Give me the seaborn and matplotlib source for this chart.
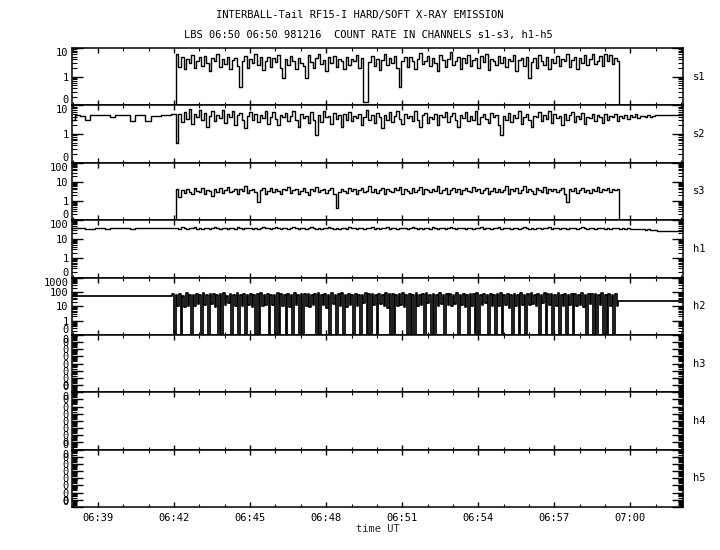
import numpy as np
import matplotlib
matplotlib.use("Agg")
import matplotlib.pyplot as plt
import matplotlib.ticker as mticker
import seaborn as sns

# time in minutes after 06:00 UT
X_MIN, X_MAX = 37.97, 62.08
T_PRE = 37.87          # coarse sampling (12 s) before the burst
DT_PRE = 12 / 60
T_ON = 42.07           # fine sampling (6 s)
DT = 6 / 60
T_H2 = 41.93           # h2 sampled in 8 s bins (max / min pairs)
DT_H2 = 8 / 60

CHANNELS = ["s1", "s2", "s3", "h1", "h2", "h3", "h4", "h5"]
X_MAJOR = [39, 42, 45, 48, 51, 54, 57, 60]

# count rates
s1_counts = [
    6.0, 2.2, 5.0, 1.8, 4.2, 3.0, 5.5, 2.0, 3.6, 4.8,
    2.4, 5.2, 3.0, 1.6, 4.4, 3.4, 6.0, 2.2, 4.0, 2.8,
    5.0, 1.8, 3.8, 4.6, 2.4, 0.45, 3.4, 5.4, 2.0, 4.2,
    3.0, 6.2, 2.6, 4.8, 1.7, 3.6, 5.0, 2.2, 4.4, 3.2,
    5.8, 2.0, 0.9, 4.0, 2.6, 5.2, 3.4, 1.8, 4.6, 3.0,
    2.4, 0.9, 5.6, 3.2, 2.0, 4.4, 6.4, 2.8, 3.8, 1.6,
    4.8, 3.0, 5.4, 2.2, 4.0, 3.4, 1.9, 5.0, 2.6, 4.2,
    3.6, 5.8, 2.0, 4.6, 0.13, 0.13, 3.2, 5.2, 2.4, 4.0,
    1.7, 3.8, 6.0, 2.6, 4.4, 3.0, 5.4, 2.0, 0.45, 3.6,
    4.8, 2.2, 5.0, 3.4, 1.8, 4.2, 6.6, 2.8, 3.6, 5.2,
    2.4, 4.6, 3.0, 1.6, 5.6, 3.8, 2.2, 4.0, 7.2, 2.6,
    3.4, 5.0, 1.8, 4.4, 3.0, 5.8, 2.4, 3.8, 4.6, 2.0,
    5.2, 3.2, 6.0, 1.7, 4.2, 3.6, 2.6, 5.4, 3.0, 4.8,
    2.2, 4.0, 3.4, 5.6, 1.6, 3.8, 4.6, 2.4, 5.0, 0.9,
    3.2, 4.4, 2.0, 5.8, 3.6, 2.6, 4.8, 1.8, 4.0, 3.0,
    5.4, 2.4, 4.2, 3.4, 6.2, 2.2, 3.8, 5.0, 1.9, 4.4,
    3.0, 5.6, 2.6, 4.0, 6.4, 2.8, 3.6, 5.2, 2.4, 6.0,
    3.4, 5.8, 2.8, 4.4, 3.6,
]

s2_pre = [3.2, 4.8, 4.2, 3.2, 4.8, 4.8, 4.6, 4.6, 4.0, 4.8, 4.6,
          4.6, 2.8, 4.8, 4.8, 2.8, 4.4, 4.4, 4.8, 4.8, 5.0]
s2_fine = [
    0.5, 5.0, 2.6, 6.0, 3.4, 7.5, 2.2, 5.2, 4.0, 6.8,
    3.0, 5.6, 1.8, 4.4, 6.4, 2.8, 4.8, 3.6, 7.0, 2.4,
    5.0, 3.8, 6.2, 2.0, 4.6, 5.4, 3.2, 1.6, 4.2, 6.0,
    3.0, 5.2, 2.6, 4.8, 3.6, 6.6, 2.2, 4.0, 5.8, 3.4,
    2.0, 4.6, 3.8, 5.4, 2.8, 4.2, 6.2, 3.0, 1.8, 5.0,
    3.6, 4.4, 2.4, 5.8, 3.2, 0.95, 4.8, 2.6, 6.4, 3.8,
    4.2, 2.2, 5.6, 3.4, 4.6, 1.7, 5.2, 3.0, 6.0, 2.8,
    4.4, 3.6, 5.0, 2.0, 4.0, 6.8, 3.2, 4.8, 2.4, 5.4,
    3.8, 1.6, 4.6, 3.0, 5.8, 2.6, 4.2, 6.2, 3.4, 2.2,
    5.0, 3.6, 4.4, 2.8, 6.4, 3.2, 1.8, 4.8, 5.6, 2.4,
    4.0, 3.4, 5.2, 2.0, 4.6, 3.8, 6.0, 2.6, 4.2, 5.4,
    3.0, 1.7, 4.8, 3.6, 5.8, 2.8, 4.4, 3.2, 6.6, 2.2,
    4.0, 5.0, 3.4, 2.4, 5.6, 3.8, 4.6, 2.0, 0.95, 4.2,
    3.0, 5.4, 2.6, 4.8, 3.6, 6.2, 2.2, 4.0, 5.0, 3.2,
    1.8, 4.4, 3.8, 5.8, 2.8, 4.6, 3.4, 6.4, 2.4, 5.2,
    3.6, 4.2, 2.0, 5.0, 3.0, 4.8, 6.0, 2.6, 4.4, 3.4,
    5.6, 2.2, 4.0, 3.6, 5.2, 2.8, 4.6, 3.8, 2.4, 5.0,
    3.2, 4.4, 3.8, 5.0, 2.8, 4.2, 3.6, 4.8, 3.4, 4.6,
    4.0, 5.0, 3.6, 4.4, 4.2, 3.8, 4.8, 4.0, 4.4, 4.5,
]
s2_tail = 4.5

s3_counts = [
    4.0, 1.6, 3.6, 2.6, 4.4, 3.0, 2.2, 4.8, 3.4, 2.8,
    5.0, 2.4, 3.8, 3.2, 1.8, 4.2, 3.0, 4.6, 2.6, 3.6,
    5.2, 2.8, 3.4, 4.0, 2.2, 4.4, 3.2, 6.0, 2.6, 3.8,
    4.2, 3.0, 0.9, 3.6, 4.6, 2.4, 3.4, 5.0, 2.8, 4.0,
    3.2, 2.2, 4.4, 3.6, 5.4, 2.6, 3.8, 4.2, 2.4, 3.4,
    4.8, 3.0, 2.0, 4.0, 3.4, 5.2, 2.8, 3.6, 4.4, 2.6,
    3.8, 4.6, 2.2, 0.43, 3.0, 4.2, 3.4, 2.6, 5.0, 3.2,
    4.0, 2.4, 3.6, 4.8, 2.8, 3.4, 6.2, 3.0, 4.2, 2.6,
    3.8, 5.0, 2.4, 4.4, 3.2, 2.8, 4.6, 3.6, 5.6, 2.2,
    4.0, 3.4, 2.6, 4.8, 3.0, 3.8, 5.2, 2.4, 4.2, 3.6,
    2.8, 4.4, 3.2, 6.0, 2.6, 3.6, 4.6, 2.2, 3.8, 5.0,
    3.0, 4.2, 2.4, 3.6, 4.8, 3.2, 2.8, 5.4, 3.4, 4.0,
    2.6, 3.8, 4.6, 2.2, 3.4, 5.0, 3.0, 4.4, 2.8, 3.6,
    5.8, 2.4, 4.0, 3.2, 4.6, 2.6, 3.8, 6.4, 2.8, 4.2,
    3.4, 2.2, 4.8, 3.6, 3.0, 5.2, 2.6, 4.0, 3.4, 4.4,
    2.8, 3.8, 5.0, 2.4, 0.9, 4.2, 3.2, 4.6, 2.6, 3.6,
    4.8, 3.0, 3.8, 2.6, 4.4, 3.4, 5.2, 2.8, 4.0, 3.6,
    4.6, 3.0, 4.2, 3.8, 4.4,
]

h1_pre = [38, 38, 37, 36, 36, 37, 38, 36, 37, 37, 38,
          37, 36, 37, 38, 37, 38, 38, 37, 38, 39]
h1_fine = [
    40, 36, 42, 38, 35, 41, 37, 44, 36, 39,
    34, 38, 41, 36, 39, 43, 37, 35, 40, 38,
    33, 37, 40, 36, 42, 38, 35, 39, 37, 41,
    36, 39, 34, 38, 43, 37, 40, 35, 38, 42,
    37, 35, 39, 41, 36, 38, 44, 37, 34, 39,
    40, 36, 38, 42, 37, 35, 39, 36, 41, 38,
    43, 37, 34, 39, 36, 40, 38, 35, 42, 37,
    39, 36, 41, 38, 35, 40, 37, 45, 36, 38,
    34, 39, 37, 42, 36, 38, 40, 35, 39, 37,
    41, 36, 38, 43, 37, 34, 39, 36, 40, 38,
    36, 42, 37, 35, 39, 41, 36, 38, 44, 37,
    35, 40, 37, 39, 33, 38, 41, 36, 39, 37,
    42, 36, 38, 40, 35, 39, 37, 43, 36, 38,
    40, 37, 34, 39, 41, 36, 38, 42, 37, 35,
    39, 36, 41, 38, 35, 40, 37, 44, 36, 39,
    37, 34, 38, 41, 36, 39, 37, 40, 35, 38,
    42, 37, 36, 39, 38, 35, 40, 37, 39, 36,
    38, 36, 39, 37, 38, 35, 37, 36, 38, 35,
    36, 34, 35, 33, 34, 32, 33, 31, 30, 31,
]
h1_tail = 28

h2_pre = 55
h2_hi = [
    70, 60, 75, 55, 80, 65, 58, 72, 62, 85,
    57, 68, 74, 60, 66, 78, 55, 70, 63, 82,
    59, 71, 65, 76, 58, 69, 88, 61, 73, 64,
    56, 79, 67, 60, 74, 62, 83, 57, 70, 66,
    75, 59, 68, 86, 61, 72, 64, 77, 58, 69,
    81, 63, 71, 56, 76, 65, 60, 90, 67, 73,
    58, 70, 62, 79, 66, 74, 57, 68, 84, 61,
    72, 64, 77, 59, 69, 87, 62, 71, 65, 78,
    56, 73, 66, 60, 80, 63, 70, 58, 75, 67,
    85, 61, 72, 64, 76, 59, 68, 82, 62, 74,
    57, 70, 65, 79, 60, 71, 88, 63, 73, 58,
    77, 66, 69, 61, 83, 64, 72, 59, 75, 68,
    62, 80, 57, 70, 66, 74, 60, 78, 63, 71,
    65, 69,
]
h2_lo = [
    12, 10, 14, 9, 11, 13, 10, 15, 8, 12,
    11, 14, 9, 13, 10, 12, 16, 9, 11, 13,
    10, 15, 12, 9, 14, 11, 10, 13, 8, 12,
    14, 10, 11, 15, 9, 12, 13, 10, 16, 11,
    9, 12, 14, 10, 13, 8, 11, 15, 12, 10,
    13, 9, 12, 14, 11, 10, 16, 9, 13, 12,
    10, 14, 11, 8, 12, 15, 10, 13, 9, 11,
    14, 12, 10, 13, 9, 16, 11, 12, 10, 14,
    8, 13, 11, 15, 10, 12, 9, 14, 11, 13,
    10, 12, 16, 9, 11, 14, 10, 13, 12, 8,
    15, 11, 10, 13, 9, 12, 14, 10, 11, 16,
    9, 13, 12, 10, 14, 11, 8, 12, 15, 10,
    13, 9, 11, 14, 12, 10, 13, 9, 12, 11,
    14, 10,
]
# 8 s bins in which the h2 rate dropped to zero
h2_zero_bins = [0, 2, 5, 8, 10, 13, 14, 17, 19, 21, 24, 25, 28, 30, 31, 33,
                35, 37, 38, 42, 43, 46, 48, 50, 53, 55, 57, 58, 60, 64, 65,
                69, 70, 71, 74, 76, 77, 80, 84, 87, 89, 90, 93, 95, 97, 100,
                102, 104, 108, 110, 112, 114, 116, 118, 122, 124, 125, 127,
                128, 130]
h2_tail = 22

Y_TICKS = {
    "s1": [0.1, 1, 10],
    "s2": [0.1, 1, 10],
    "s3": [0.1, 1, 10, 100],
    "h1": [0.1, 1, 10, 100],
    "h2": [0.1, 1, 10, 100, 1000],
}
Y_TICKLABELS = {
    "s1": ["0", "1", "10"],
    "s2": ["0", "1", "10"],
    "s3": ["0", "1", "10", "100"],
    "h1": ["0", "1", "10", "100"],
    "h2": ["0", "1", "10", "100", "1000"],
}
EMPTY_DECADES = 8


def fmt_ut(m, _):
    m = int(round(m))
    return f"{6 + m // 60:02d}:{m % 60:02d}"


def build_series():
    n1 = len(s1_counts)
    t1 = np.concatenate([[X_MIN - 0.5], T_ON + np.arange(n1) * DT, [T_ON + n1 * DT]])
    series = {}
    series["s1"] = (t1, np.concatenate([[0], s1_counts, [0]]))
    n3 = len(s3_counts)
    t3 = np.concatenate([[X_MIN - 0.5], T_ON + np.arange(n3) * DT, [T_ON + n3 * DT]])
    series["s3"] = (t3, np.concatenate([[0], s3_counts, [0]]))

    for name, pre, fine, tail in [("s2", s2_pre, s2_fine, s2_tail),
                                  ("h1", h1_pre, h1_fine, h1_tail)]:
        t = np.concatenate([T_PRE + np.arange(len(pre)) * DT_PRE,
                            T_ON + np.arange(len(fine)) * DT,
                            [T_ON + len(fine) * DT, X_MAX + 0.5]])
        v = np.concatenate([pre, fine, [tail, tail]])
        series[name] = (t, v)

    lo = np.array(h2_lo, dtype=float)
    lo[h2_zero_bins] = 0
    nb = len(h2_hi)
    t_hi = T_H2 + np.arange(nb) * DT_H2
    t_band = np.column_stack([t_hi, t_hi + DT_H2 / 2]).ravel()
    v_band = np.column_stack([h2_hi, lo]).ravel()
    t2 = np.concatenate([[X_MIN - 0.5], t_band, [T_H2 + nb * DT_H2, X_MAX + 0.5]])
    v2 = np.concatenate([[h2_pre], v_band, [h2_tail, h2_tail]])
    series["h2"] = (t2, v2)
    return series


sns.set_style("ticks")
plt.rcParams.update({
    "font.family": ["DejaVu Sans Mono"],
    "font.size": 7.5,
    "axes.linewidth": 1.1,
    "path.simplify": False,
    "xtick.direction": "in",
    "ytick.direction": "in",
    "axes.facecolor": "white",
    "figure.facecolor": "white",
    "text.color": "black",
    "xtick.color": "black",
    "ytick.color": "black",
    "axes.edgecolor": "black",
})

fig = plt.figure(figsize=(7.2, 5.5), dpi=100)
gs = fig.add_gridspec(len(CHANNELS), 1, left=0.1, right=0.9486,
                      top=0.9127, bottom=0.0782, hspace=0)
series = build_series()

for i, ch in enumerate(CHANNELS):
    ax = fig.add_subplot(gs[i, 0])
    if ch in series:
        t, v = series[ch]
        sns.lineplot(x=t, y=v, ax=ax, color="black",
                     linewidth=1.25 if ch == "h2" else 1.0,
                     drawstyle="steps-post", estimator=None, sort=False)
    ax.set_yscale("log", nonpositive="clip")
    if ch in Y_TICKS:
        ax.set_ylim(Y_TICKS[ch][0], Y_TICKS[ch][-1])
        ax.yaxis.set_major_locator(mticker.FixedLocator(Y_TICKS[ch]))
        ax.yaxis.set_major_formatter(mticker.FixedFormatter(Y_TICKLABELS[ch]))
    else:
        decades = [10.0 ** k for k in range(EMPTY_DECADES + 1)]
        ax.set_ylim(decades[0], decades[-1])
        ax.yaxis.set_major_locator(mticker.FixedLocator(decades))
        ax.yaxis.set_major_formatter(mticker.FixedFormatter(["0"] * len(decades)))
    ax.yaxis.set_minor_locator(mticker.LogLocator(subs=np.arange(2, 10), numticks=60))
    ax.yaxis.set_minor_formatter(mticker.NullFormatter())

    ax.set_xlim(X_MIN, X_MAX)
    ax.xaxis.set_major_locator(mticker.FixedLocator(X_MAJOR))
    ax.xaxis.set_minor_locator(mticker.MultipleLocator(1))
    ax.xaxis.set_major_formatter(mticker.FuncFormatter(fmt_ut))

    ax.tick_params(axis="y", which="major", length=7.9, width=1.0,
                   left=True, right=True, pad=2.5, labelsize=7.5)
    ax.tick_params(axis="y", which="minor", length=3.6, width=0.8,
                   left=True, right=True)
    ax.tick_params(axis="x", which="major", length=3.8, width=1.0,
                   top=True, bottom=True, pad=4, labelsize=7.5)
    ax.tick_params(axis="x", which="minor", length=2.2, width=0.8,
                   top=True, bottom=True)
    if i < len(CHANNELS) - 1:
        ax.tick_params(axis="x", labelbottom=False)
    else:
        ax.set_xlabel("time UT", fontsize=7.5, labelpad=1)
    ax.set_ylabel("")
    for sp in ax.spines.values():
        sp.set_visible(True)
        sp.set_linewidth(1.1)

    # lowest label sits just above the bottom of the panel, as in the original
    yticks = ax.yaxis.get_major_ticks()
    yticks[0].label1.set_verticalalignment("bottom")
    yticks[-1].label1.set_verticalalignment("top")

    pos = ax.get_position()
    fig.text(693 / 720, (pos.y0 + pos.y1) / 2, ch, ha="left", va="center",
             fontsize=7.5)

fig.text(360 / 720, 1 - 15 / 550, "INTERBALL-Tail RF15-I HARD/SOFT X-RAY EMISSION",
         ha="center", va="center", fontsize=7.5)
fig.text(368 / 720, 1 - 35 / 550,
         "LBS 06:50 06:50 981216  COUNT RATE IN CHANNELS s1-s3, h1-h5",
         ha="center", va="center", fontsize=7.5)

fig.savefig("out.png", dpi=100)
